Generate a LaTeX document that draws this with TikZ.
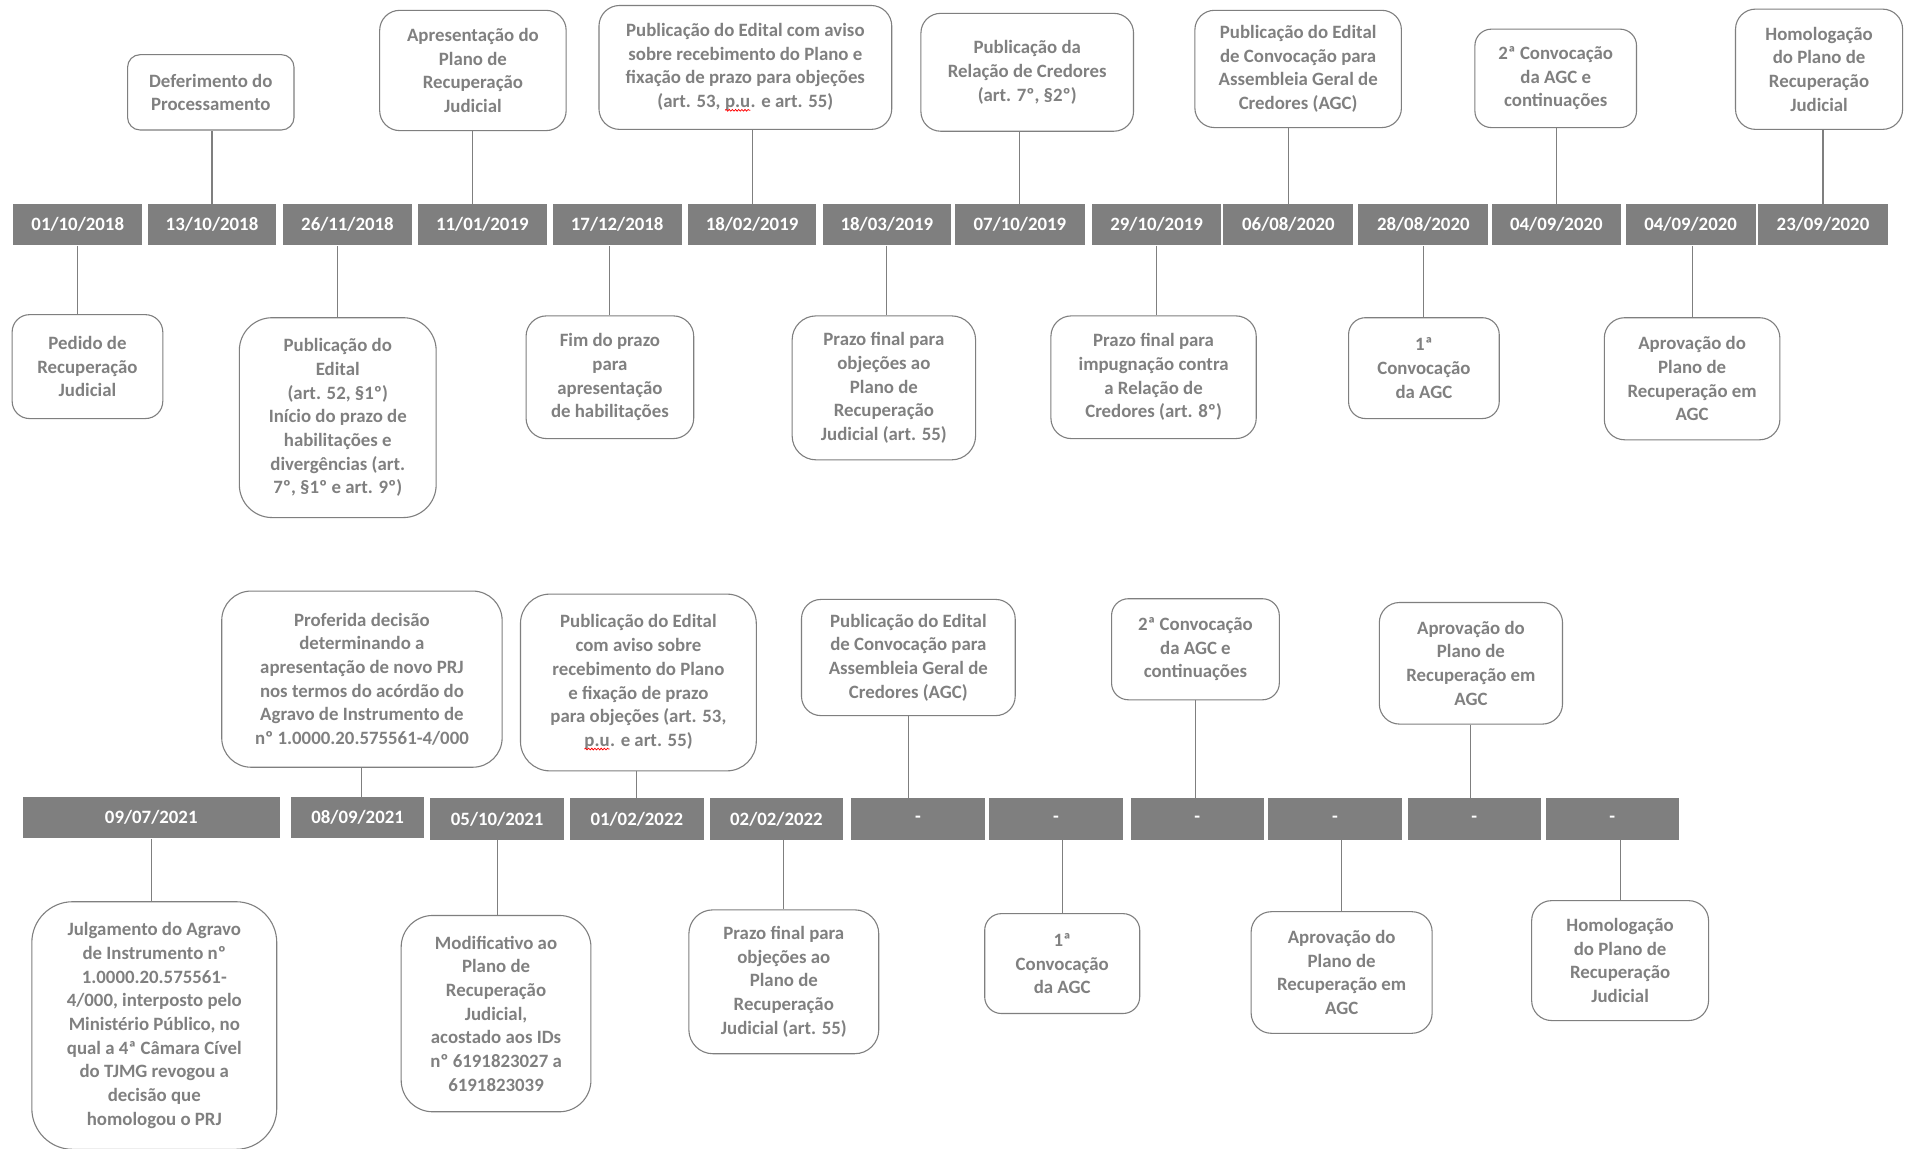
\documentclass[tikz,border=0pt]{standalone}
\usepackage{fontspec}
\setmainfont{Carlito}
\usetikzlibrary{decorations.pathmorphing}
\definecolor{gr}{RGB}{127,127,127}
\definecolor{txt}{RGB}{128,128,128}
\tikzset{
 evbox/.style={draw=gr, line width=0.9pt, fill=white, inner sep=0pt, align=center, text=txt, font=\bfseries\fontsize{15.5}{19.5}\selectfont},
 datebar/.style={fill=gr, draw=none, inner sep=0pt, text=white, font=\bfseries\fontsize{15.5}{19.5}\selectfont},
 conn/.style={draw=gr, line width=0.9pt},
}
\newcommand\ebox[6]{%
 \pgfmathsetmacro\bw{#4-#2}\pgfmathsetmacro\bh{#5-#3}%
 \pgfmathsetmacro\br{0.1667*min(\bw,\bh)}%
 \node[evbox, minimum width=\bw pt, minimum height=\bh pt, rounded corners=\br pt] (#1) at ({(#2+#4)/2},{(#3+#5)/2}) {#6};}
\newcommand\dbar[6]{%
 \pgfmathsetmacro\bw{#4-#2}\pgfmathsetmacro\bh{#5-#3}%
 \node[datebar, minimum width=\bw pt, minimum height=\bh pt] (#1) at ({(#2+#4)/2},{(#3+#5)/2}) {#6};}
\newcommand\squig[1]{\tikz[baseline=(sq.base)]{\node[draw=none, fill=none, minimum width=0pt, minimum height=0pt, sharp corners, inner sep=0pt, outer sep=0pt, text=txt, align=left] (sq) {#1};\draw[red, line width=0.6pt, sharp corners, decorate, decoration={snake, amplitude=0.7pt, segment length=2.6pt}] ([yshift=-2.2pt]sq.base west) -- ([yshift=-2.2pt]sq.base east);}}
\begin{document}
\begin{tikzpicture}[x=1pt,y=-1pt]
\useasboundingbox[fill=white] (0,0) rectangle (1568,945);
% ---------- first timeline bars
\dbar{a1}{11}{168}{117}{202}{01/10/2018}
\dbar{a2}{122}{168}{227}{202}{13/10/2018}
\dbar{a3}{233}{168}{339}{202}{26/11/2018}
\dbar{a4}{344}{168}{450}{202}{11/01/2019}
\dbar{a5}{455}{168}{561}{202}{17/12/2018}
\dbar{a6}{566}{168}{672}{202}{18/02/2019}
\dbar{a7}{677}{168}{783}{202}{18/03/2019}
\dbar{a8}{786}{168}{893}{202}{07/10/2019}
\dbar{a9}{899}{168}{1005}{202}{29/10/2019}
\dbar{a10}{1007}{168}{1114}{202}{06/08/2020}
\dbar{a11}{1118}{168}{1225}{202}{28/08/2020}
\dbar{a12}{1228}{168}{1334}{202}{04/09/2020}
\dbar{a13}{1338}{168}{1445}{202}{04/09/2020}
\dbar{a14}{1447}{168}{1554}{202}{23/09/2020}
% ---------- first timeline, boxes above
\ebox{t1}{105}{45}{242}{107}{Deferimento do\\Processamento}
\ebox{t2}{312.5}{8.5}{466}{107.5}{Apresentação do\\Plano de\\Recuperação\\Judicial}
\ebox{t3}{493}{4.5}{734}{106.5}{Publicação do Edital com aviso\\sobre recebimento do Plano e\\fixação de prazo para objeções\\(art. 53, \squig{p.u}. e art. 55)}
\ebox{t4}{758}{11}{933}{108}{Publicação da\\Relação de Credores\\(art. 7º, §2º)}
\ebox{t5}{983.5}{8.5}{1153.5}{105}{Publicação do Edital\\de Convocação para\\Assembleia Geral de\\Credores (AGC)}
\ebox{t6}{1214}{24}{1347}{105}{2ª Convocação\\da AGC e\\continuações}
\ebox{t7}{1428.5}{7.5}{1566}{106.5}{Homologação\\do Plano de\\Recuperação\\Judicial}
% ---------- first timeline, boxes below
\ebox{u1}{10}{259}{134}{344.5}{Pedido de\\Recuperação\\Judicial}
\ebox{u2}{197}{261.5}{359}{426}{Publicação do\\Edital\\(art. 52, §1º)\\Início do prazo de\\habilitações e\\divergências (art.\\7º, §1º e art. 9º)}
\ebox{u3}{433}{260}{571}{361}{Fim do prazo\\para\\apresentação\\de habilitações}
\ebox{u4}{652}{260}{803}{378.5}{Prazo final para\\objeções ao\\Plano de\\Recuperação\\Judicial (art. 55)}
\ebox{u5}{865}{260}{1034}{361}{Prazo final para\\impugnação contra\\a Relação de\\Credores (art. 8º)}
\ebox{u6}{1110}{261.5}{1234}{344.5}{1ª\\Convocação\\da AGC}
\ebox{u7}{1320.5}{261.5}{1465}{362}{Aprovação do\\Plano de\\Recuperação em\\AGC}
% ---------- first timeline connectors
\draw[conn] (a2.north) -- (a2.north |- t1.south);
\draw[conn] (t2.south) -- (t2.south |- a4.north);
\draw[conn] (a6.north) -- (a6.north |- t3.south);
\draw[conn] (a8.north) -- (a8.north |- t4.south);
\draw[conn] (a10.north) -- (a10.north |- t5.south);
\draw[conn] (a12.north) -- (a12.north |- t6.south);
\draw[conn] (a14.north) -- (a14.north |- t7.south);
\draw[conn] (a1.south) -- (a1.south |- u1.north);
\draw[conn] (u2.north) -- (u2.north |- a3.south);
\draw[conn] (u3.north) -- (u3.north |- a5.south);
\draw[conn] (a7.south) -- (a7.south |- u4.north);
\draw[conn] (a9.south) -- (a9.south |- u5.north);
\draw[conn] (u6.north) -- (u6.north |- a11.south);
\draw[conn] (u7.north) -- (u7.north |- a13.south);
% ---------- second timeline bars
\dbar{b1}{18.7}{656}{230.3}{690}{09/07/2021}
\dbar{b2}{239.4}{656}{349.3}{690}{08/09/2021}
\dbar{b3}{354.3}{657}{464.2}{691}{05/10/2021}
\dbar{b4}{469.2}{657}{579.1}{691}{01/02/2022}
\dbar{b5}{584.2}{657}{694}{691}{02/02/2022}
\dbar{b6}{700.2}{657}{811}{691}{-}
\dbar{b7}{814}{657}{924.2}{691}{-}
\dbar{b8}{930.5}{657}{1040.2}{691}{-}
\dbar{b9}{1043.7}{657}{1153.8}{691}{-}
\dbar{b10}{1158.6}{657}{1268.2}{691}{-}
\dbar{b11}{1272.2}{657}{1381.9}{691}{-}
% ---------- second timeline, boxes above
\ebox{v1}{182.5}{486.5}{413.3}{631.5}{Proferida decisão\\determinando a\\apresentação de novo PRJ\\nos termos do acórdão do\\Agravo de Instrumento de\\nº 1.0000.20.575561-4/000}
\ebox{v2}{428.4}{489}{622.5}{634.5}{Publicação do Edital\\com aviso sobre\\recebimento do Plano\\e fixação de prazo\\para objeções (art. 53,\\\squig{p.u}. e art. 55)}
\ebox{v3}{659.7}{493.4}{835.6}{589}{Publicação do Edital\\de Convocação para\\Assembleia Geral de\\Credores (AGC)}
\ebox{v4}{914.9}{492.8}{1053}{576}{2ª Convocação\\da AGC e\\continuações}
\ebox{v5}{1135.3}{495.9}{1286.1}{596}{Aprovação do\\Plano de\\Recuperação em\\AGC}
% ---------- second timeline, boxes below
\ebox{w1}{26.2}{742.2}{227.8}{946}{Julgamento do Agravo\\de Instrumento nº\\1.0000.20.575561-\\4/000, interposto pelo\\Ministério Público, no\\qual a 4ª Câmara Cível\\do TJMG revogou a\\decisão que\\homologou o PRJ}
\ebox{w2}{330.2}{753.5}{486.4}{915.1}{Modificativo ao\\Plano de\\Recuperação\\Judicial,\\acostado aos IDs\\nº 6191823027 a\\6191823039}
\ebox{w3}{567}{748.9}{723.3}{867.3}{Prazo final para\\objeções ao\\Plano de\\Recuperação\\Judicial (art. 55)}
\ebox{w4}{810.5}{752}{938.1}{834.2}{1ª\\Convocação\\da AGC}
\ebox{w5}{1029.8}{750.4}{1178.8}{850.5}{Aprovação do\\Plano de\\Recuperação em\\AGC}
\ebox{w6}{1260.7}{741.3}{1406.3}{840}{Homologação\\do Plano de\\Recuperação\\Judicial}
% ---------- second timeline connectors
\draw[conn] (v1.south) -- (v1.south |- b2.north);
\draw[conn] (b4.north) -- (b4.north |- v2.south);
\draw[conn] (v3.south) -- (v3.south |- b6.north);
\draw[conn] (v4.south) -- (v4.south |- b8.north);
\draw[conn] (v5.south) -- (v5.south |- b10.north);
\draw[conn] (b1.south) -- (b1.south |- w1.north);
\draw[conn] (b3.south) -- (b3.south |- w2.north);
\draw[conn] (w3.north) -- (w3.north |- b5.south);
\draw[conn] (w4.north) -- (w4.north |- b7.south);
\draw[conn] (w5.north) -- (w5.north |- b9.south);
\draw[conn] (w6.north) -- (w6.north |- b11.south);
\end{tikzpicture}
\end{document}
